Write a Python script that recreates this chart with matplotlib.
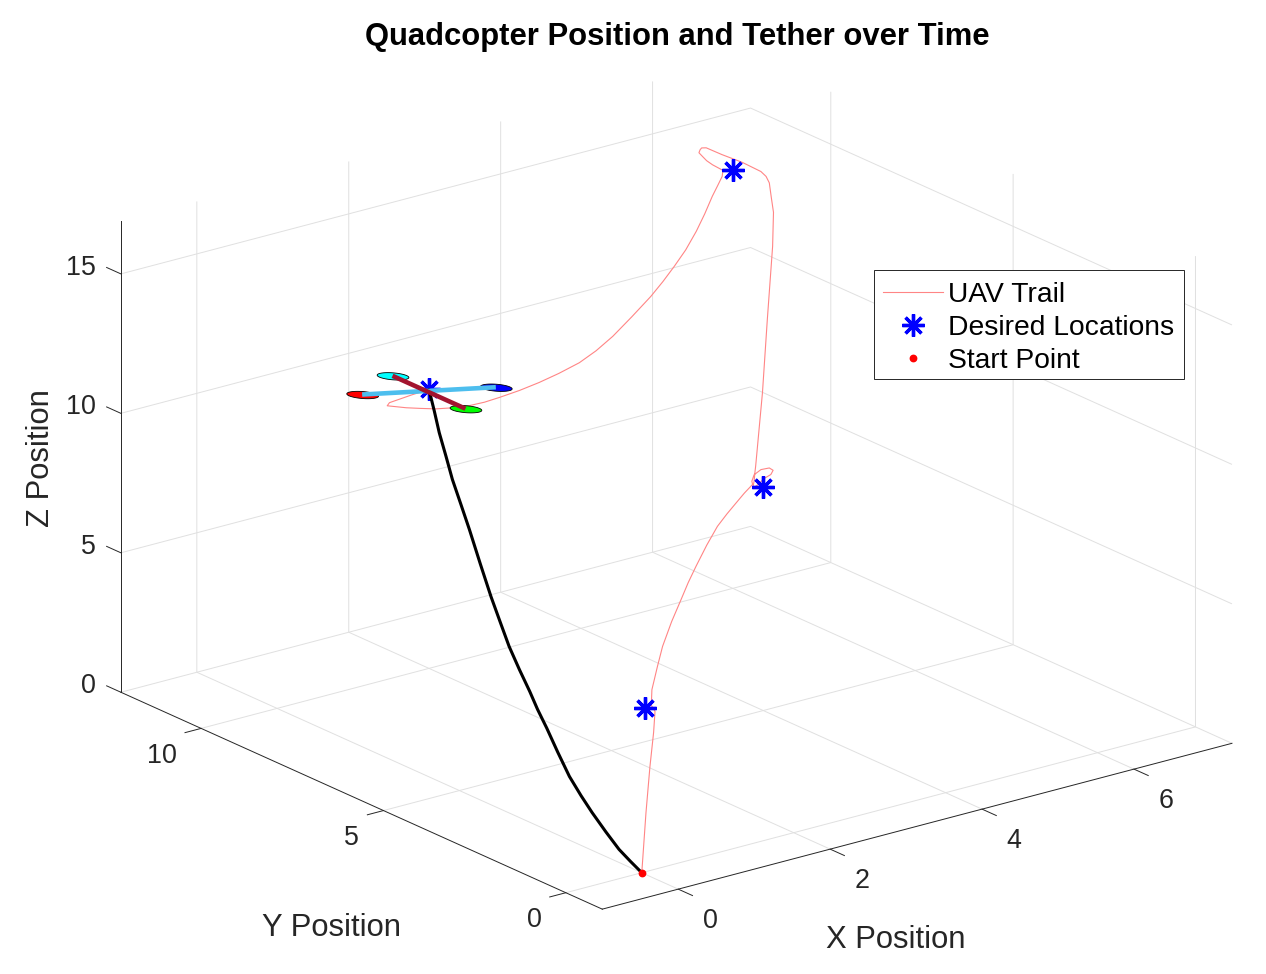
import numpy as np
import matplotlib
matplotlib.use('Agg')
import matplotlib.pyplot as plt
from matplotlib.patches import Rectangle
from matplotlib.text import Text
from mpl_toolkits.mplot3d.art3d import Poly3DCollection

plt.rcParams['font.family'] = ['Liberation Sans', 'DejaVu Sans']

W, H = 1266, 974

x_limits = (-1.0, 7.29)
y_limits = (-1.0, 12.2)
z_limits = (0.0, 16.88)
x_ticks = [0, 2, 4, 6]
y_ticks = [0, 5, 10]
z_ticks = [0, 5, 10, 15]

title_text = 'Quadcopter Position and Tether over Time'
legend_labels = ['UAV Trail', 'Desired Locations', 'Start Point']

desired_x = [1, 4, 6, 2]
desired_y = [2, 5, 10, 10]
desired_z = [4, 8, 15, 10]
start_point = (0, 0, 0)

trail_x = [0, .401, .722, .972, 1.125, 1.11, 1.18, 1.32, 1.45, 1.68, 1.92, 2.10, 2.30, 2.57, 2.84, 3.08, 3.31, 3.52, 3.73,
           3.85, 3.88, 3.97, 4.08, 4.13, 4.10, 4.01, 3.93, 3.86, 3.88, 3.89,
           3.90, 4.59, 5.23, 5.90, 6.19, 6.29, 6.375, 6.39, 6.37, 6.22, 6.05, 5.97, 5.89, 5.84, 5.81, 5.78, 5.79, 5.80, 5.83, 5.87,
           5.86, 5.80, 5.73, 5.63, 5.52, 5.38, 5.23, 5.08, 4.92, 4.67, 4.42, 4.20, 3.98, 3.71, 3.45, 3.19,
           2.93, 2.73, 2.53, 2.31, 2.09, 1.89, 1.70, 1.56, 1.45, 1.48, 1.78, 2.0]
trail_y = [0, .72, 1.28, 1.7, 1.98, 2.05, 2.18, 2.32, 2.45, 2.68, 2.92, 3.10, 3.30, 3.57, 3.84, 4.08, 4.31, 4.52, 4.73,
           5, 5, 5, 5, 5, 5, 5, 5, 5, 5, 5,
           5, 6.25, 7.45, 8.7, 9.28, 9.55, 9.78, 9.9, 10, 10.2, 10.4, 10.45, 10.5, 10.52, 10.5, 10.47, 10.4, 10.3, 10.2, 10,
           10, 10, 10, 10, 10, 10, 10, 10, 10, 10, 10, 10, 10, 10, 10, 10,
           10, 10, 10, 10, 10, 10, 10, 10, 10, 10, 10, 10]
trail_z = [0, 1.44, 2.53, 3.33, 3.81, 4.0, 4.43, 5.08, 5.63, 6.22, 6.70, 7.07, 7.40, 7.80, 8.12, 8.25, 8.34, 8.42, 8.46,
           8.33, 8.54, 8.66, 8.64, 8.52, 8.39, 8.31, 8.15, 8.06, 8.31, 8.61,
           8.83, 10.24, 11.69, 13.10, 13.77, 14.09, 14.40, 14.55, 14.68, 15.0, 15.28, 15.43, 15.58, 15.60, 15.57, 15.50, 15.41, 15.30, 15.19, 15.08,
           14.87, 14.58, 14.25, 13.69, 13.15, 12.58, 12.10, 11.66, 11.24, 10.69, 10.17, 9.81, 9.54, 9.35, 9.21, 9.11,
           9.05, 9.02, 9.04, 9.12, 9.24, 9.40, 9.56, 9.70, 9.81, 9.90, 9.97, 10.0]

tether_x = [2, 1.95, 1.90, 1.84, 1.78, 1.70, 1.62, 1.515, 1.41, 1.325, 1.24, 1.15, 1.06, .98, .90, .79, .68, .57, .46, .335, .21, .105, 0]
tether_y = [10, 9.75, 9.51, 9.2, 8.9, 8.5, 8.1, 7.58, 7.07, 6.63, 6.22, 5.75, 5.28, 4.9, 4.48, 3.95, 3.4, 2.85, 2.32, 1.68, 1.06, .53, 0]
tether_z = [10, 9.41, 8.81, 8.19, 7.58, 6.98, 6.37, 5.51, 4.72, 4.09, 3.56, 3.07, 2.63, 2.27, 1.90, 1.43, .96, .67, .46, .23, .06, .02, 0]

arm_a_x = [1.12, 2.88]
arm_a_y = [10, 10]
arm_a_z = [10.45, 9.45]
arm_b_x = [2, 2]
arm_b_y = [11, 9]
arm_b_z = [9.9, 9.9]
rotor_colors = ['red', 'blue', 'cyan', 'lime']
rotor_radius_x = 0.18
rotor_radius_y = 0.22

TEXT = '#262626'
GRID = '#e0e0e0'

S = 1300.0
left, bottom = 676.4 - 0.5135 * S, (H - 482.4) - 0.5135 * S
fig = plt.figure(figsize=(W / 100, H / 100), dpi=100, facecolor='white')
ax = fig.add_axes([left / W, bottom / H, S / W, S / H], projection='3d', proj_type='ortho')
ax.computed_zorder = False
ax.view_init(elev=20.15, azim=-127.4)
ax.set_xlim(*x_limits)
ax.set_ylim(*y_limits)
ax.set_zlim(*z_limits)
ax.set_box_aspect((1, 1, 0.6327), zoom=0.917)
ax.patch.set_alpha(0)
ax.set_xticks(x_ticks)
ax.set_yticks(y_ticks)
ax.set_zticks(z_ticks)
ax.zaxis.set_ticks_position('upper')
ax.zaxis.set_label_position('upper')
ax.zaxis._get_tickdir = lambda position: 1

VIEW_PER_PIXEL = 0.185 / S

def nudge_label(label, dx, dy):
    def set_position(xy):
        Text.set_position(label, (xy[0] + dx * VIEW_PER_PIXEL, xy[1] + dy * VIEW_PER_PIXEL))
    label.set_position = set_position

out_factor = {ax.xaxis: -.37, ax.yaxis: -.32, ax.zaxis: .37}
pads = {ax.xaxis: 13.5, ax.yaxis: 12, ax.zaxis: 3.5}
aligns = {ax.xaxis: ('left', 'center'), ax.yaxis: ('right', 'center'), ax.zaxis: ('right', 'center')}
nudges = {ax.xaxis: (3.5, -1.5), ax.yaxis: (1.5, -1), ax.zaxis: (1.5, 5)}
for axis in (ax.xaxis, ax.yaxis, ax.zaxis):
    axis.set_pane_color((1, 1, 1, 0))
    axis.pane.set_edgecolor((1, 1, 1, 0))
    axis.line.set_color(TEXT)
    axis.line.set_linewidth(0.7)
    axis._axinfo['grid'].update(color=GRID, linewidth=0.7)
    axis._axinfo['tick'].update(inward_factor=0, outward_factor=out_factor[axis], linewidth={True: .7, False: .5})
    axis.set_tick_params(colors=TEXT, labelsize=19.4, width=0.7, pad=pads[axis])
    axis.set_rotate_label(False)
    for tick in axis.get_major_ticks():
        tick.label1.set_ha(aligns[axis][0])
        tick.label1.set_va(aligns[axis][1])
        nudge_label(tick.label1, *nudges[axis])

ax.set_title(title_text, fontsize=22.3, fontweight='bold', color='black',
             x=(677 - left) / S, y=(H - 45 - bottom) / S / 0.92, va='center')

trail, = ax.plot(trail_x, trail_y, trail_z, color='#ff8585', lw=0.8, zorder=2)
stars, = ax.plot(desired_x, desired_y, desired_z, ls='none', marker=(8, 2, 0), ms=16,
                 mew=2.4, color='#0000ff', zorder=3)

centers = [(arm_a_x[0], arm_a_y[0], arm_a_z[0]), (arm_a_x[1], arm_a_y[1], arm_a_z[1]),
           (arm_b_x[0], arm_b_y[0], arm_b_z[0]), (arm_b_x[1], arm_b_y[1], arm_b_z[1])]
rotor_tilt = (arm_a_z[1] - arm_a_z[0]) / (arm_a_x[1] - arm_a_x[0])
theta = np.linspace(0, 2 * np.pi, 60)
for c, col in zip(centers, rotor_colors):
    dx = rotor_radius_x * np.cos(theta)
    verts = np.column_stack([c[0] + dx, c[1] + rotor_radius_y * np.sin(theta), c[2] + rotor_tilt * dx])
    ax.add_collection3d(Poly3DCollection([verts], facecolor=col, edgecolor='black',
                                         linewidth=0.6, zorder=4))
ax.plot(tether_x, tether_y, tether_z, color='black', lw=2.2, zorder=4.5, solid_capstyle='round')
ax.plot(arm_a_x, arm_a_y, arm_a_z, color='#4DBEEE', lw=3.3, zorder=5, solid_capstyle='butt')
ax.plot(arm_b_x, arm_b_y, arm_b_z, color='#A2142F', lw=3.3, zorder=6, solid_capstyle='butt')
start, = ax.plot([start_point[0]], [start_point[1]], [start_point[2]], ls='none', marker='o',
                 ms=4.6, color='red', zorder=7)

frame = Rectangle((874 / W, 1 - 379 / H), 310 / W, 109 / H, transform=fig.transFigure,
                  facecolor='white', edgecolor=TEXT, linewidth=0.7, zorder=4)
fig.add_artist(frame)
leg = fig.legend([trail, stars, start], legend_labels, loc='upper left',
                 bbox_to_anchor=(875 / W, 1 - 273.5 / H),
                 fontsize=20.35, numpoints=1, frameon=False,
                 borderpad=0.3, borderaxespad=0, handlelength=2.12, handletextpad=0.18,
                 labelspacing=0.25)
leg.set_zorder(5)

fig.canvas.draw()

def pin_label(axis, text, px, py, rotation=0):
    axis.set_label_text(text, fontsize=22.3, color=TEXT, rotation=rotation)
    lab = axis.label
    Text.set_position(lab, ax.transData.inverted().transform((px, H - py)))
    lab.set_position = lambda xy: None

pin_label(ax.xaxis, 'X Position', 896, 940)
pin_label(ax.yaxis, 'Y Position', 331, 928)
pin_label(ax.zaxis, 'Z Position', 41, 458, rotation=90)

fig.savefig('out.png', dpi=100)
